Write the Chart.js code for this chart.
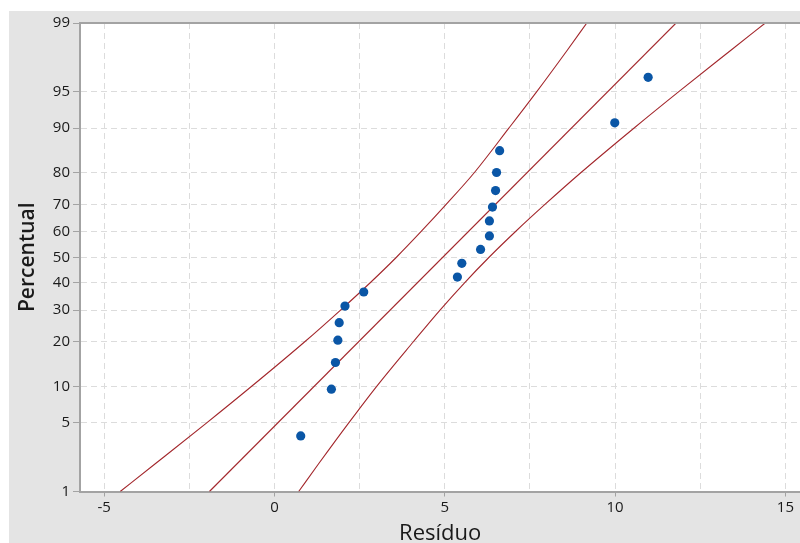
<!DOCTYPE html>
<html>
<head>
<meta charset="utf-8">
<script src="https://cdn.jsdelivr.net/npm/chart.js@4"></script>
<style>
    html, body { margin: 0; padding: 0; background: #fff; overflow: hidden; }
    #probabilidadeChart { position: absolute; left: 9px; top: 11px; background: #e4e4e4; }
</style>
</head>
<body>
<canvas id="probabilidadeChart" width="796" height="545"></canvas>
<script>
// Pontos do gráfico de probabilidade normal
const residuos = [0.77, 1.67, 1.79, 1.86, 1.90, 2.07, 2.62, 5.37, 5.50, 6.05, 6.31, 6.31, 6.40, 6.49, 6.52, 6.61, 9.99, 10.97];
const percentuais = [3.8, 9.5, 14.8, 20.5, 25.8, 31.4, 36.5, 42.2, 47.6, 53.1, 58.4, 64.1, 69.1, 74.6, 80.0, 85.5, 90.9, 96.3];

// Reta ajustada
const ajustePct = [1, 99];
const ajusteRes = [-1.91, 11.79];

// Limites de confiança (curvas)
const limitePct = [1, 2, 5, 10, 20, 30, 40, 50, 60, 70, 80, 90, 95, 98, 99];
const limiteInferior = [-4.53, -3.51, -1.99, -0.67, 0.88, 1.94, 2.81, 3.58, 4.30, 5.04, 5.87, 6.88, 7.70, 8.59, 9.17];
const limiteSuperior = [0.71, 1.29, 2.18, 3.00, 4.07, 4.86, 5.58, 6.30, 7.07, 7.94, 9.00, 10.55, 11.87, 13.39, 14.41];

// Marcas dos eixos
const ticksX = [-5, -2.5, 0, 2.5, 5, 7.5, 10, 12.5, 15];
const ticksY = [1, 5, 10, 20, 30, 40, 50, 60, 70, 80, 90, 95, 99];

const FONTE = "'Open Sans', 'Noto Sans', sans-serif";
const COR_TEXTO = '#1a1a1a';
const COR_EIXO = '#a3a3a3';
const COR_GRADE = '#dcdcdc';
const COR_LINHA = '#a3272c';

// Inversa da normal padrão (Acklam), para a escala de probabilidade
function probit(p) {
    const a = [-3.969683028665376e+01, 2.209460984245205e+02, -2.759285104469687e+02, 1.383577518672690e+02, -3.066479806614716e+01, 2.506628277459239e+00];
    const b = [-5.447609879822406e+01, 1.615858368580409e+02, -1.556989798598866e+02, 6.680131188771972e+01, -1.328068155288572e+01];
    const c = [-7.784894002430293e-03, -3.223964580411365e-01, -2.400758277161838e+00, -2.549732539343734e+00, 4.374664141464968e+00, 2.938163982698783e+00];
    const d = [7.784695709041462e-03, 3.224671290700398e-01, 2.445134137142996e+00, 3.754408661907416e+00];
    const plow = 0.02425;
    let q, r;
    if (p < plow) {
        q = Math.sqrt(-2 * Math.log(p));
        return (((((c[0] * q + c[1]) * q + c[2]) * q + c[3]) * q + c[4]) * q + c[5]) /
            ((((d[0] * q + d[1]) * q + d[2]) * q + d[3]) * q + 1);
    }
    if (p > 1 - plow) {
        q = Math.sqrt(-2 * Math.log(1 - p));
        return -(((((c[0] * q + c[1]) * q + c[2]) * q + c[3]) * q + c[4]) * q + c[5]) /
            ((((d[0] * q + d[1]) * q + d[2]) * q + d[3]) * q + 1);
    }
    q = p - 0.5;
    r = q * q;
    return (((((a[0] * r + a[1]) * r + a[2]) * r + a[3]) * r + a[4]) * r + a[5]) * q /
        (((((b[0] * r + b[1]) * r + b[2]) * r + b[3]) * r + b[4]) * r + 1);
}

const paraPontos = (xs, pcts) => xs.map((x, i) => ({ x: x, y: probit(pcts[i] / 100) }));

// Fundo branco da área de plotagem e borda superior
const areaPlotagem = {
    id: 'areaPlotagem',
    beforeDraw(chart) {
        const { ctx, chartArea: a } = chart;
        ctx.save();
        ctx.fillStyle = '#fff';
        ctx.fillRect(a.left, a.top, a.right - a.left, a.bottom - a.top);
        ctx.restore();
    },
    afterDraw(chart) {
        const { ctx, chartArea: a } = chart;
        ctx.save();
        ctx.strokeStyle = COR_EIXO;
        ctx.lineWidth = 2;
        ctx.beginPath();
        ctx.moveTo(a.left, a.top);
        ctx.lineTo(a.right, a.top);
        ctx.stroke();
        ctx.restore();
    }
};

const Grafico = {
    init() {
        const ctx = document.getElementById('probabilidadeChart');
        new Chart(ctx, {
            type: 'scatter',
            data: { datasets: this.getDatasets() },
            options: this.getOptions(),
            plugins: [areaPlotagem]
        });
    },

    getDatasets() {
        const linha = (dados) => ({
            data: dados,
            showLine: true,
            cubicInterpolationMode: 'monotone',
            borderColor: COR_LINHA,
            borderWidth: 1.1,
            pointRadius: 0,
            fill: false
        });
        return [
            {
                data: paraPontos(residuos, percentuais),
                backgroundColor: '#0a56a6',
                borderWidth: 0,
                pointRadius: 4.6
            },
            linha(paraPontos(ajusteRes, ajustePct)),
            linha(paraPontos(limiteInferior, limitePct)),
            linha(paraPontos(limiteSuperior, limitePct))
        ];
    },

    getOptions() {
        return {
            responsive: false,
            animation: false,
            layout: { padding: { top: 11, left: 0, right: 0, bottom: 0 } },
            plugins: {
                legend: { display: false },
                tooltip: { enabled: false }
            },
            scales: {
                x: {
                    type: 'linear',
                    min: -5.71,
                    max: 15.44,
                    afterBuildTicks: (scale) => { scale.ticks = ticksX.map(v => ({ value: v })); },
                    afterFit: (scale) => { scale.height = 64.5; },
                    border: { color: COR_EIXO, width: 2, dash: [6, 4] },
                    grid: {
                        color: COR_GRADE,
                        tickLength: 5,
                        tickColor: (c) => (c.tick && c.tick.value % 5 === 0) ? COR_EIXO : 'rgba(0,0,0,0)'
                    },
                    ticks: {
                        autoSkip: false,
                        maxRotation: 0,
                        padding: 2,
                        color: COR_TEXTO,
                        font: { family: FONTE, size: 15 },
                        callback: (v) => v % 5 === 0 ? String(v) : ''
                    },
                    title: {
                        display: true,
                        text: 'Resíduo',
                        color: COR_TEXTO,
                        font: { family: FONTE, size: 22, weight: '500' },
                        padding: { top: 0, bottom: 9 }
                    }
                },
                y: {
                    type: 'linear',
                    min: probit(0.01),
                    max: probit(0.99),
                    afterBuildTicks: (scale) => { scale.ticks = ticksY.map(p => ({ value: probit(p / 100) })); },
                    afterFit: (scale) => { scale.width = 71; },
                    border: { color: COR_EIXO, width: 2, dash: [6, 4] },
                    grid: {
                        color: (c) => (c.index === 0 || c.index === ticksY.length - 1) ? 'rgba(0,0,0,0)' : COR_GRADE,
                        tickLength: 7,
                        tickColor: COR_EIXO
                    },
                    ticks: {
                        autoSkip: false,
                        padding: 3,
                        color: COR_TEXTO,
                        font: { family: FONTE, size: 15 },
                        callback: (v, i) => String(ticksY[i])
                    },
                    title: {
                        display: true,
                        text: 'Percentual',
                        color: COR_TEXTO,
                        font: { family: FONTE, size: 21, weight: '600' },
                        padding: { top: 6, bottom: 0 }
                    }
                }
            }
        };
    }
};

document.addEventListener('DOMContentLoaded', () => {
    Grafico.init();
});
</script>
</body>
</html>
